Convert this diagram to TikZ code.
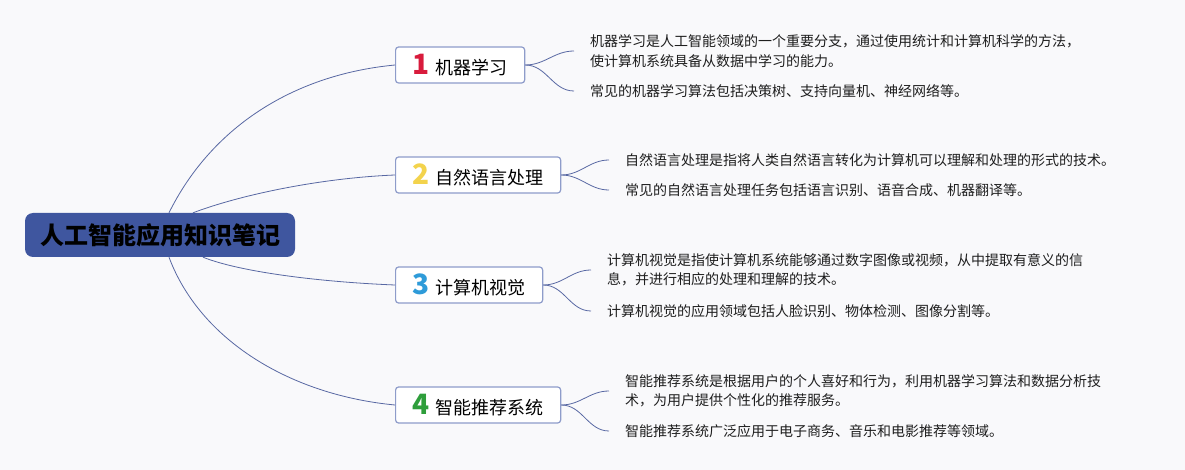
\documentclass[tikz,border=0pt]{standalone}
\usepackage{fontspec}
\setmainfont{Noto Sans CJK SC}
\usepackage{tikz}
\usetikzlibrary{calc}
\usepackage{xcolor}
\definecolor{bgcol}{HTML}{F9F9FB}
\definecolor{rootblue}{HTML}{3F569F}
\definecolor{boxline}{HTML}{8E9CCA}
\definecolor{linkblue}{HTML}{5868A3}
\definecolor{numred}{HTML}{D81B3C}
\definecolor{numyellow}{HTML}{F3D34C}
\definecolor{numblue}{HTML}{2E9BD9}
\definecolor{numgreen}{HTML}{2E9E3B}
\definecolor{txtgray}{HTML}{1E1E1E}
\newcommand{\bignum}[2]{{\color{#1}\fontsize{28}{28}\selectfont\bfseries #2}\hspace{6pt}}

\begin{document}
\begin{tikzpicture}[x=1pt, y=-1pt,
  root/.style={fill=rootblue, rounded corners=8pt, minimum width=270pt, minimum height=44pt,
    inner sep=0pt, font=\fontsize{24}{24}\selectfont\bfseries},
  topic/.style={draw=boxline, line width=1.2pt, fill=white, rounded corners=3pt, anchor=west,
    minimum height=36pt, inner xsep=17pt, inner ysep=0pt, font=\fontsize{18}{18}\selectfont},
  note/.style={anchor=west, inner xsep=16pt, inner ysep=0pt, align=left, text=txtgray,
    font=\fontsize{14}{19.5}\selectfont},
  link/.style={draw=linkblue, line width=0.8pt}]
  \fill[bgcol] (0,0) rectangle (1185,470);
  \useasboundingbox (0,0) rectangle (1185,470);

  % centre and main topics
  \node[root] (root) at (160,235) {人工智能应用知识笔记};
  \node[topic] (n1) at (395,65) {\bignum{numred}{1}机器学习};
  \node[topic] (n2) at (395,175) {\bignum{numyellow}{2}自然语言处理};
  \node[topic] (n3) at (395,285) {\bignum{numblue}{3}计算机视觉};
  \node[topic] (n4) at (395,405) {\bignum{numgreen}{4}智能推荐系统};

  % notes
  \node[note] (d1a) at (574,51) {机器学习是人工智能领域的一个重要分支，通过使用统计和计算机科学的方法，\\使计算机系统具备从数据中学习的能力。};
  \node[note] (d1b) at (574,91) {常见的机器学习算法包括决策树、支持向量机、神经网络等。};
  \node[note] (d2a) at (609,160) {自然语言处理是指将人类自然语言转化为计算机可以理解和处理的形式的技术。};
  \node[note] (d2b) at (609,190) {常见的自然语言处理任务包括语言识别、语音合成、机器翻译等。};
  \node[note] (d3a) at (591,270) {计算机视觉是指使计算机系统能够通过数字图像或视频，从中提取有意义的信\\息，并进行相应的处理和理解的技术。};
  \node[note] (d3b) at (591,311) {计算机视觉的应用领域包括人脸识别、物体检测、图像分割等。};
  \node[note] (d4a) at (609,391) {智能推荐系统是根据用户的个人喜好和行为，利用机器学习算法和数据分析技\\术，为用户提供个性化的推荐服务。};
  \node[note] (d4b) at (609,431) {智能推荐系统广泛应用于电子商务、音乐和电影推荐等领域。};

  % links
  \draw[link] ([xshift=9pt]root.north) .. controls (210,130) and (290,75) .. (n1.west);
  \draw[link] ([xshift=33pt]root.north) .. controls (240,195) and (320,178) .. (n2.west);
  \draw[link] ([xshift=43pt]root.south) .. controls (240,272) and (320,282) .. (n3.west);
  \draw[link] ([xshift=9pt]root.south) .. controls (200,340) and (290,395) .. (n4.west);
  \foreach \t in {1,...,4}
    \foreach \s in {a,b}
      \draw[link] (n\t.east) to[out=0, in=180] (d\t\s.west);
\end{tikzpicture}
\end{document}
